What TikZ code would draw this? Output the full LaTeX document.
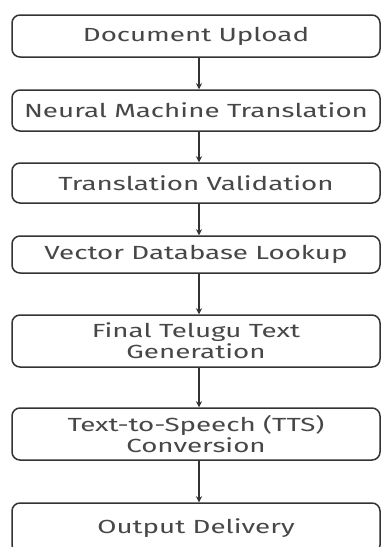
\documentclass[tikz,border=0pt]{standalone}
\usepackage{fontspec}
\setmainfont{Fira Sans}
\usetikzlibrary{arrows.meta}
\definecolor{edgegray}{HTML}{333333}
\definecolor{labelgray}{HTML}{474747}
% horizontally widened label line
\newcommand{\wideline}[1]{\scalebox{1.46}[1]{#1}}
\begin{document}
\begin{tikzpicture}[x=1pt,y=-1pt,
  stage/.style={draw=edgegray, line width=1.5pt, rounded corners=8pt,
    minimum width=368pt, inner sep=0pt, align=center,
    text=labelgray, font=\fontsize{19}{21}\selectfont},
  flow/.style={draw=edgegray, line width=1.5pt,
    -{Stealth[length=6pt,width=6pt]}}]
\useasboundingbox (0,0) rectangle (381,547);
\clip (0,0) rectangle (381,547);
\fill[white] (0,0) rectangle (381,547);

\node[stage, minimum height=42pt] (upload) at (196,36) {\wideline{Document Upload}};
\node[stage, minimum height=41pt] (nmt) at (196,110.5) {\wideline{Neural Machine Translation}};
\node[stage, minimum height=40pt] (valid) at (196,183) {\wideline{Translation Validation}};
\node[stage, minimum height=37pt] (vdb) at (196,254.5) {\wideline{Vector Database Lookup}};
\node[stage, minimum height=52pt] (telugu) at (196,341) {\wideline{Final Telugu Text}\\\wideline{Generation}};
\node[stage, minimum height=52pt] (tts) at (196,434) {\wideline{Text-to-Speech (TTS)}\\\wideline{Conversion}};
\node[stage, minimum height=50pt] (out) at (196,528) {\wideline{Output Delivery}};

\draw[flow] ([xshift=3pt]upload.south) -- ([xshift=3pt]nmt.north);
\draw[flow] ([xshift=3pt]nmt.south) -- ([xshift=3pt]valid.north);
\draw[flow] ([xshift=3pt]valid.south) -- ([xshift=3pt]vdb.north);
\draw[flow] ([xshift=3pt]vdb.south) -- ([xshift=3pt]telugu.north);
\draw[flow] ([xshift=3pt]telugu.south) -- ([xshift=3pt]tts.north);
\draw[flow] ([xshift=3pt]tts.south) -- ([xshift=3pt]out.north);
\end{tikzpicture}
\end{document}
